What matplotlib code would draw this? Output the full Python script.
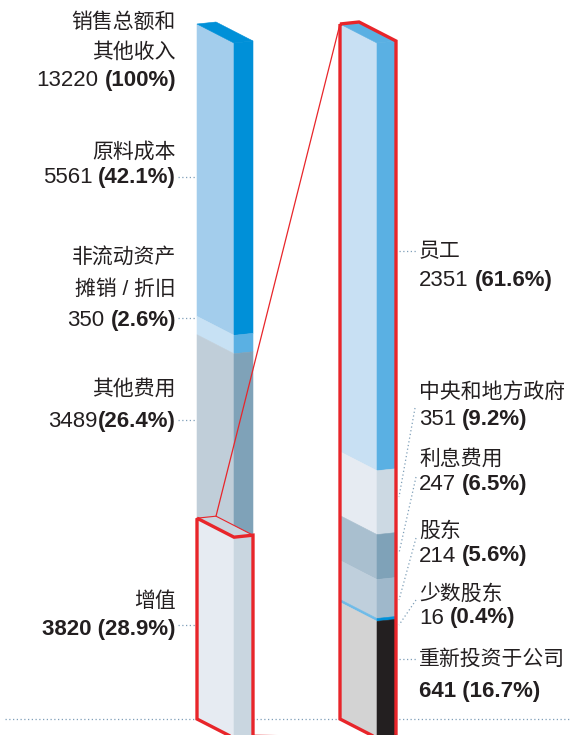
import matplotlib
matplotlib.use("Agg")
import matplotlib.pyplot as plt
from matplotlib.patches import Polygon, ConnectionPatch

plt.rcParams['font.family'] = ['Liberation Sans', 'Noto Sans CJK SC']

# ---------------------------------------------
# data : left bar = sales split, right bar = split of the value added
total_name = ["销售总额和", "其他收入"]
total_value = 13220
total_pct = "100%"

left_names = [["原料成本"], ["非流动资产", "摊销 / 折旧"], ["其他费用"], ["增值"]]
left_values = [5561, 350, 3489, 3820]
left_pcts = ["42.1%", "2.6%", "26.4%", "28.9%"]

right_names = ["员工", "中央和地方政府", "利息费用", "股东", "少数股东", "重新投资于公司"]
right_values = [2351, 351, 247, 214, 16, 641]
right_pcts = ["61.6%", "9.2%", "6.5%", "5.6%", "0.4%", "16.7%"]

# ---------------------------------------------
# style / layout (pixels)
left_front = ["#a3cdec", "#c7e1f4", "#c0ced9", "#e6ebf2"]
left_side = ["#0090d8", "#5ab0e3", "#7fa2b8", "#c9d6e0"]
right_front = ["#c8e0f3", "#e6ebf2", "#a9bfcf", "#bfcfdc", "#6fbbe8", "#d3d3d3"]
right_side = ["#5ab0e3", "#ccd9e3", "#7fa2b8", "#9fb8cb", "#0090d8", "#231f20"]

W, H = 570, 735
TOP, BASE = 24, 719
FW, DEPTH = 37, 19
DROP, RISE = 19, 2
LX, RX = 197, 340
RED = "#e8252a"
INK = "#231f20"
DOT = "#7f9fb8"
CJK = 15
NUM = 16

left_name_y = [[152], [258, 289], [389], [601]]
left_num_y = [177, 320, 421, 630]
left_sep = [True, True, False, True]
left_all_bold = [False, False, False, True]
left_leader_y = [177, 318, 420, 625]

right_name_y = [252, 392, 459, 531, 595, 659]
right_num_y = [280, 419, 484, 556, 618, 691]
right_all_bold = [False, False, False, False, False, True]
right_leaders = [((399, 251), (416, 251)), ((415, 408), (399, 497)),
                 ((416, 477), (399, 553)), ((416, 538), (399, 600)),
                 ((416, 600), (399, 625)), ((399, 659), (416, 659))]

fig = plt.figure(figsize=(5.7, 7.35), dpi=100)
over = fig.add_axes([0, 0, 1, 1])
over.set_xlim(0, W)
over.set_ylim(H, 0)
over.axis("off")


def bar_axes(total):
    ax = fig.add_axes([0, 0, 1, 1])
    ax.set_xlim(0, W)
    ppu = (BASE - TOP) / total
    ax.set_ylim(total + (H - BASE) / ppu, -TOP / ppu)
    ax.axis("off")
    return ax, DROP / ppu, RISE / ppu


def faces(x0, y0, y1, f, s):
    front = [(x0, y0), (x0 + FW, y0 + f), (x0 + FW, y1 + f), (x0, y1)]
    side = [(x0 + FW, y0 + f), (x0 + FW + DEPTH, y0 + f - s),
            (x0 + FW + DEPTH, y1 + f - s), (x0 + FW, y1 + f)]
    top = [(x0, y0), (x0 + DEPTH, y0 - s), (x0 + FW + DEPTH, y0 + f - s),
           (x0 + FW, y0 + f)]
    return front, side, top


def draw_stack(ax, x0, values, fronts, sides, f, s, top_color):
    y = 0
    for v, fc, sc in zip(values, fronts, sides):
        front, side, _ = faces(x0, y, y + v, f, s)
        ax.add_patch(Polygon(front, closed=True, fc=fc, ec=fc, lw=0.4))
        ax.add_patch(Polygon(side, closed=True, fc=sc, ec=sc, lw=0.4))
        y += v
    _, _, top = faces(x0, 0, y, f, s)
    ax.add_patch(Polygon(top, closed=True, fc=top_color, ec=top_color, lw=0.4))
    return y


def silhouette(x0, y0, y1, f, s):
    return [(x0, y0), (x0 + FW, y0 + f), (x0 + FW + DEPTH, y0 + f - s),
            (x0 + FW + DEPTH, y1 + f - s), (x0 + FW, y1 + f), (x0, y1)]


def txt(x, y, s, ha, size=CJK, weight="normal"):
    return over.text(x, y, s, ha=ha, va="center", fontsize=size,
                     weight=weight, color=INK)


def num_line(x, y, value, pct, align, sep=True, all_bold=False):
    gap = 4.2 if sep else 0.5
    if all_bold:
        return txt(x, y, f"{value} ({pct})", align, NUM, "bold")
    if align == "right":
        b = txt(x, y, f"({pct})", "right", NUM, "bold")
        over.annotate(str(value), xy=(0, 0.5), xycoords=b, xytext=(-gap, 0),
                      textcoords="offset points", ha="right", va="center",
                      fontsize=NUM, color=INK)
    else:
        n = txt(x, y, str(value), "left", NUM)
        over.annotate(f"({pct})", xy=(1, 0.5), xycoords=n, xytext=(gap, 0),
                      textcoords="offset points", ha="left", va="center",
                      fontsize=NUM, color=INK, weight="bold")


dot_style = dict(color=DOT, lw=0.9, ls=(0, (1, 2)))

# baseline, behind the bars
over.plot([5, W], [BASE, BASE], **dot_style)

# left bar
axL, fL, sL = bar_axes(total_value)
tot = draw_stack(axL, LX, left_values, left_front, left_side, fL, sL, "#0090d8")
va0 = tot - left_values[-1]
_, _, box_top = faces(LX, va0, tot, fL, sL)
axL.add_patch(Polygon(box_top, closed=True, fc="#c9d5df", ec="none"))
axL.plot([box_top[0][0], box_top[1][0], box_top[2][0]],
         [box_top[0][1], box_top[1][1], box_top[2][1]], color=RED, lw=0.8)
axL.add_patch(Polygon(silhouette(LX, va0, tot, fL, sL), closed=True,
                      fill=False, ec=RED, lw=2.4, joinstyle="miter"))

# right bar
axR, fR, sR = bar_axes(sum(right_values))
totR = draw_stack(axR, RX, right_values, right_front, right_side, fR, sR, "#5ab0e3")
outline = [(RX, 0), (RX + DEPTH, -sR), (RX + FW + DEPTH, fR - sR),
           (RX + FW + DEPTH, totR + fR - sR), (RX + FW, totR + fR), (RX, totR)]
axR.add_patch(Polygon(outline, closed=True, fill=False, ec=RED, lw=2.4,
                      joinstyle="miter"))

# zoom lines from the value added box to the right bar
fig.add_artist(ConnectionPatch(xyA=(LX + DEPTH, va0 - sL), coordsA=axL.transData,
                               xyB=(RX, 0), coordsB=axR.transData,
                               color=RED, lw=0.9))
fig.add_artist(ConnectionPatch(xyA=(LX + FW + DEPTH, tot + fL - sL), coordsA=axL.transData,
                               xyB=(RX + FW, totR + fR), coordsB=axR.transData,
                               color=RED, lw=2))

# left labels
for i, y in enumerate([22, 52]):
    txt(176, y, total_name[i], "right")
num_line(176, 80, total_value, total_pct, "right")
for names, ys, v, p, ny, sep, ab, ly in zip(left_names, left_name_y, left_values,
                                            left_pcts, left_num_y, left_sep,
                                            left_all_bold, left_leader_y):
    for n, y in zip(names, ys):
        txt(176, y, n, "right")
    num_line(176, ny, v, p, "right", sep, ab)
    over.plot([178, LX], [ly, ly], **dot_style)

# right labels
for n, y, v, p, ny, ab, (a, b) in zip(right_names, right_name_y, right_values,
                                     right_pcts, right_num_y, right_all_bold,
                                     right_leaders):
    txt(419, y, n, "left")
    num_line(419, ny, v, p, "left", True, ab)
    over.plot([a[0], b[0]], [a[1], b[1]], **dot_style)

fig.savefig("out.png", dpi=100)
